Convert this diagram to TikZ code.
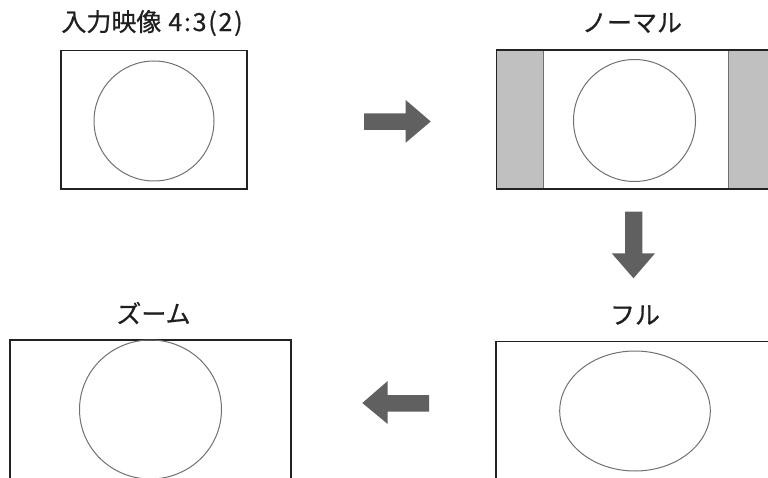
\documentclass[tikz,border=0pt]{standalone}
\usepackage{fontspec}
\newfontfamily\jp[FakeBold=0.6]{Noto Sans CJK JP}
\newfontfamily\jpd[FakeBold=0.6,LetterSpace=7]{Noto Sans CJK JP}
\definecolor{framec}{HTML}{222222}
\definecolor{circc}{HTML}{707070}
\definecolor{barc}{HTML}{C0C0C0}
\definecolor{arrc}{HTML}{606060}
\tikzset{
  frame/.style={draw=framec, line width=1.7pt},
  pic/.style={draw=circc, line width=1pt},
  lbl/.style={font=\jp\fontsize{25}{25}\selectfont, text=black!88, inner sep=0pt},
  blockarrow/.style={fill=arrc, draw=none}
}
\begin{document}
\begin{tikzpicture}[x=1pt,y=-1pt]
\useasboundingbox (0,0) rectangle (768,478);
\clip (0,0) rectangle (768,478);
% labels
\node[lbl] (l1) at (152,23) {入力映像\hspace{7pt}{\jpd\fontsize{25}{25}\selectfont 4:3(2)}};
\node[lbl] (l2) at (632,23) {ノーマル};
\node[lbl] (l3) at (153.5,313) {ズーム};
\node[lbl] (l4) at (635,315) {フル};
% top-left: input
\draw[frame] (61,50.5) rectangle (247,189);
\draw[pic] (154,121) circle[radius=60];
% top-right: normal
\fill[barc] (496.5,50) rectangle (543,189);
\fill[barc] (728,50) rectangle (775,189);
\draw[circc, line width=0.8pt] (543,50) -- (543,189);
\draw[circc, line width=0.8pt] (728,50) -- (728,189);
\draw[frame] (496.5,50) rectangle (775,189);
\draw[pic] (634.5,120.5) circle[radius=61];
% bottom-right: full
\draw[frame] (496.3,341.5) rectangle (775,490);
\draw[pic] (635,411) ellipse[x radius=75.3, y radius=60];
% bottom-left: zoom
\draw[frame] (10,340) rectangle (291,490);
\draw[pic] (150.5,409.5) ellipse[x radius=71, y radius=69.5];
% arrows
\fill[blockarrow] (364,113.3) -- (405.7,113.3) -- (405.7,100) -- (430.7,121.5) -- (405.7,142.7) -- (405.7,130) -- (364,130) -- cycle;
\fill[blockarrow] (625,211.7) -- (642.3,211.7) -- (642.3,253.3) -- (655,253.3) -- (633.5,278.3) -- (611.7,253.3) -- (625,253.3) -- cycle;
\fill[blockarrow] (429,395) -- (387.7,395) -- (387.7,381) -- (362.3,403) -- (387.7,424) -- (387.7,411.7) -- (429,411.7) -- cycle;
\end{tikzpicture}
\end{document}
